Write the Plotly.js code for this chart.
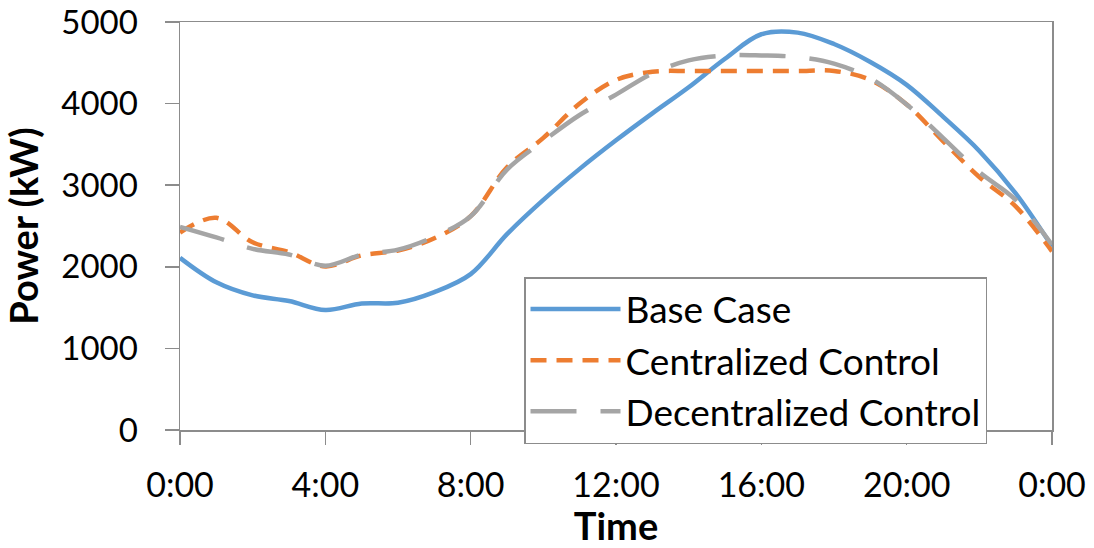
<!DOCTYPE html>
<html>
<head>
<meta charset="utf-8">
<script src="https://cdn.plot.ly/plotly-3.0.1.min.js"></script>
<style>html,body{margin:0;padding:0;background:#fff;}#chart{width:1094px;height:548px;}</style>
</head>
<body>
<div id="chart"></div>
<script>
const hours = [0,1,2,3,4,5,6,7,8,9,10,11,12,13,14,15,16,17,18,19,20,21,22,23,24];
const baseCase = [2110,1810,1650,1580,1470,1550,1560,1690,1910,2400,2820,3200,3550,3880,4200,4550,4850,4870,4730,4510,4230,3840,3420,2900,2250];
const centralized = [2420,2600,2300,2180,2005,2140,2200,2350,2620,3220,3580,4000,4290,4390,4400,4400,4400,4400,4400,4290,3990,3540,3100,2740,2190];
const decentralized = [2490,2360,2220,2150,2013,2150,2210,2370,2620,3190,3540,3860,4110,4370,4530,4590,4590,4570,4490,4310,3990,3580,3160,2820,2270];
const tickVals = [0,4,8,12,16,20,24];
const tickText = ['0:00','4:00','8:00','12:00','16:00','20:00','0:00'];
const yTickVals = [0,1000,2000,3000,4000,5000];
const seriesNames = ['Base Case','Centralized Control','Decentralized Control'];

const FONT = 'Lato, "Open Sans", sans-serif';
const traces = [
  {x: hours, y: baseCase, name: seriesNames[0], mode: 'lines',
   line: {color: '#5B9BD5', width: 4.5, shape: 'spline', smoothing: 1}},
  {x: hours, y: centralized, name: seriesNames[1], mode: 'lines',
   line: {color: '#ED7D31', width: 4.5, shape: 'spline', smoothing: 1, dash: '16px,10px'}},
  {x: hours, y: decentralized, name: seriesNames[2], mode: 'lines',
   line: {color: '#A5A5A5', width: 4.5, shape: 'spline', smoothing: 1, dash: '46px,24px'}}
];
const layout = {
  width: 1094, height: 548,
  margin: {l: 180, r: 42, t: 22, b: 118},
  paper_bgcolor: '#fff', plot_bgcolor: '#fff',
  font: {family: FONT, size: 34, color: '#000'},
  showlegend: true,
  legend: {x: 0.3945, y: 0.375, xanchor: 'left', yanchor: 'top',
    bordercolor: '#8c8c8c', borderwidth: 1.5, bgcolor: '#fff',
    font: {family: FONT, size: 37, color: '#000'}, itemwidth: 90},
  xaxis: {range: [0, 24], tickvals: tickVals, ticktext: tickText,
    showgrid: false, zeroline: false, showline: true, mirror: true,
    linecolor: '#8c8c8c', linewidth: 1.5, ticks: 'outside', ticklen: 13,
    tickcolor: '#8c8c8c', tickwidth: 1.5, ticklabelstandoff: 12,
    ticklabeloverflow: 'allow',
    tickfont: {family: FONT, size: 34, color: '#000'},
    title: {text: '<b>Time</b>', font: {family: FONT, size: 38, color: '#000'}, standoff: 12}},
  yaxis: {range: [0, 5000], tickvals: yTickVals,
    showgrid: false, zeroline: false, showline: true, mirror: true,
    linecolor: '#8c8c8c', linewidth: 1.5, ticks: 'outside', ticklen: 14,
    tickcolor: '#8c8c8c', tickwidth: 1.5, ticklabelstandoff: 20,
    ticklabeloverflow: 'allow',
    tickfont: {family: FONT, size: 33, color: '#000'},
    title: {text: '<b>Power (kW)</b>', font: {family: FONT, size: 38, color: '#000'}, standoff: 13}}
};
Plotly.newPlot('chart', traces, layout, {displayModeBar: false, staticPlot: true});
</script>
</body>
</html>
